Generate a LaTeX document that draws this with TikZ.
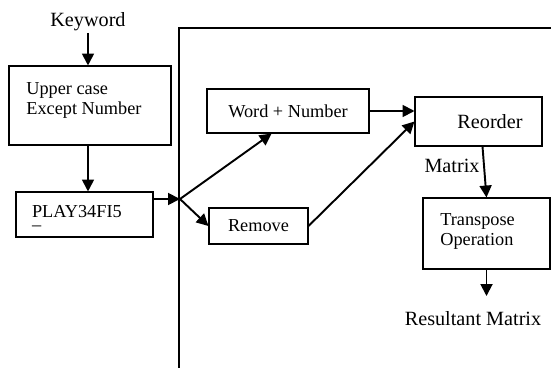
\documentclass[tikz,border=0pt]{standalone}
\usepackage{fontspec}
\setmainfont{Liberation Serif}
\usetikzlibrary{arrows.meta,calc}

\begin{document}
\begin{tikzpicture}[x=0.02cm, y=-0.02cm, font=\fontsize{10.4}{11.4}\selectfont,
    caja/.style={draw, line width=0.6pt, inner sep=0pt},
    flecha/.style={line width=1.1pt, -{Triangle[length=6.8pt,width=6.8pt]}},
    texto/.style={inner sep=0pt, align=left},
    grande/.style={font=\fontsize{11.5}{13}\selectfont}]

    \useasboundingbox (0,0) rectangle (551,368);

    % Dibujamos el marco
    \draw[line width=0.6pt] (179,368) -- (179,28) -- (551,28);

    % Colocamos las cajas
    \node[caja, minimum width=3.24cm, minimum height=1.58cm] (upper) at (90,105.5) {};
    \node[caja, minimum width=2.74cm, minimum height=0.9cm] (play) at (84.5,214.5) {};
    \node[caja, minimum width=3.24cm, minimum height=0.88cm] (word) at (288,111) {Word + Number};
    \node[caja, grande, minimum width=2.54cm, minimum height=0.98cm] (reorder) at (478.5,121.5) {\hspace*{0.46cm}Reorder};
    \node[caja, minimum width=1.98cm, minimum height=0.72cm] (remove) at (258.5,226) {Remove};
    \node[caja, minimum width=2.54cm, minimum height=1.42cm] (transpose) at (486.5,233.5) {};

    % Textos de las cajas
    \node[texto, anchor=north west] (upper txt) at (26,81.7) {Upper case\\Except Number};
    \node[texto, anchor=north west] (play txt) at (31.7,205) {PLAY34FI5\\[-7.6pt]\_};
    \node[texto, anchor=north west] (transpose txt) at (440,212.7) {Transpose\\Operation};

    % Nombramos entradas y salidas
    \node[grande, inner sep=1pt] (keyword) at (88,21.5) {Keyword};
    \node[grande, texto] (matrix) at (452,166) {Matrix};
    \node[grande, inner xsep=0pt, inner ysep=0.3cm, anchor=north] (result) at (473,296) {Resultant Matrix};

    % Flechas
    \coordinate (split) at (180,199);
    \draw[flecha] (keyword.south) -- (keyword.south |- upper.north);
    \draw[flecha] (keyword.south |- upper.south) -- (keyword.south |- play.north);
    \draw[flecha] (split -| play.east) -- (split);
    \draw[flecha] (split) -- (word.-126);
    \draw[flecha] (split) -- (remove.west);
    \draw[flecha] (word.east) -- (word.east -| reorder.west);
    \draw[flecha] (remove.east) -- (reorder.west);
    \draw[flecha] ($(reorder.south)+(4,0)$) -- (transpose.north);
    \draw[flecha] (transpose.south) -- (transpose.south |- result.north);

\end{tikzpicture}
\end{document}
